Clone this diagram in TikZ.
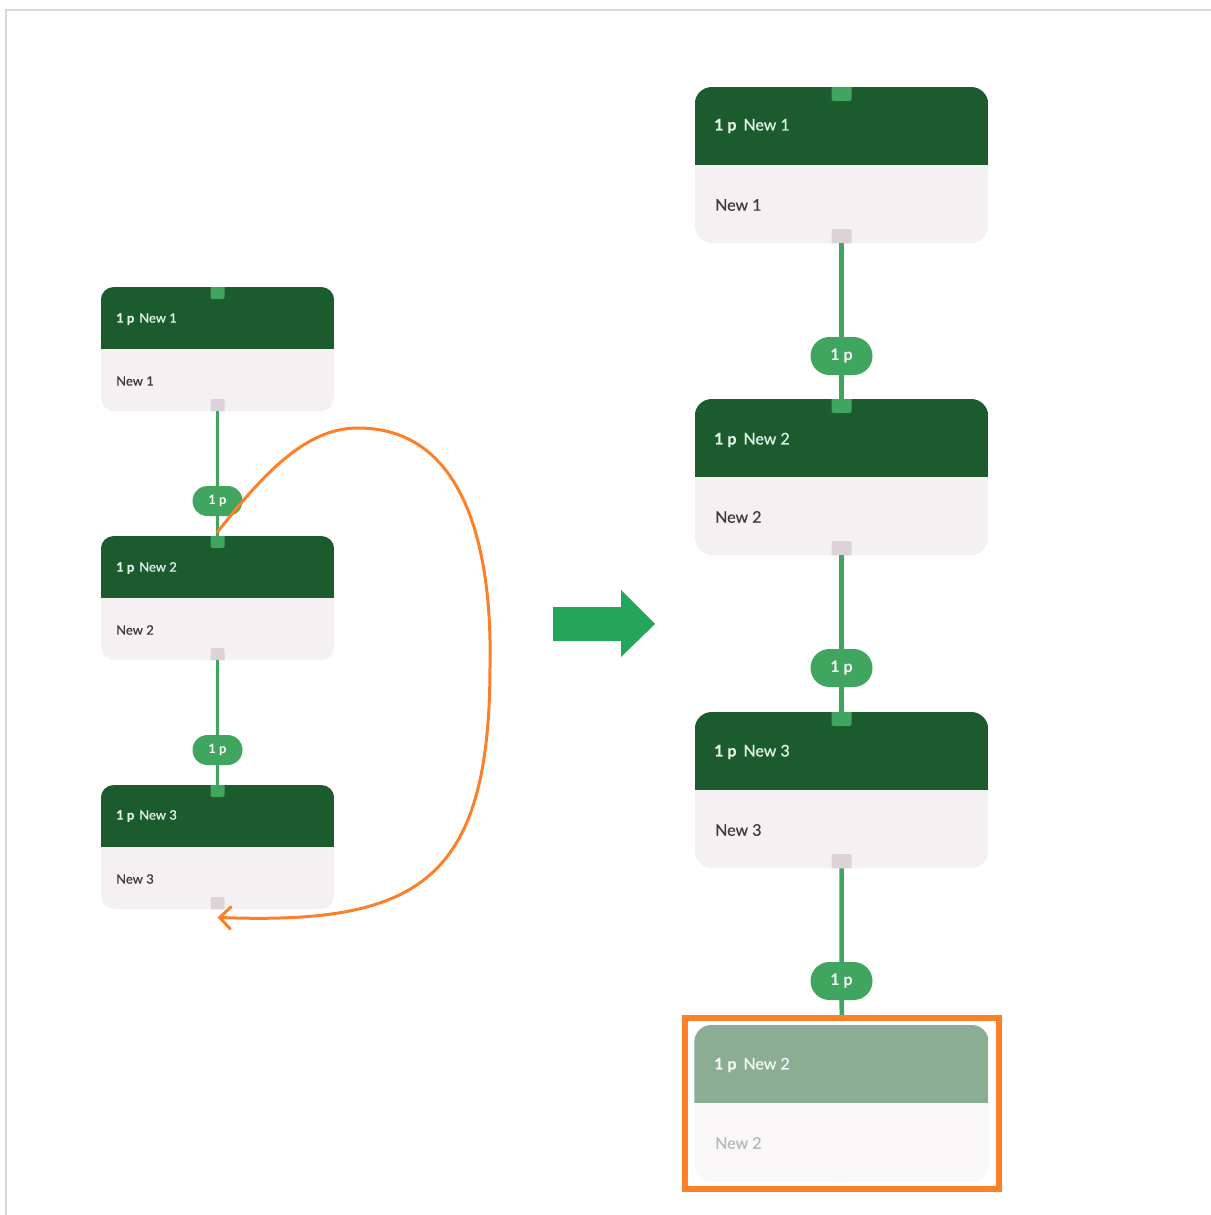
\documentclass[tikz,border=0pt]{standalone}
\usepackage{fontspec}
\setmainfont{Lato}
\newfontfamily\medfont{Lato}[FakeBold=0.6]
\usetikzlibrary{arrows.meta,shapes.misc}
\definecolor{hdrc}{HTML}{1B5B2E}
\definecolor{bodyc}{HTML}{F5F1F3}
\definecolor{tabg}{HTML}{3FA55F}
\definecolor{tabgr}{HTML}{DCD2D8}
\definecolor{fhdrc}{HTML}{8AAD93}
\definecolor{fbodyc}{HTML}{F9F7F8}
\definecolor{bigarrow}{HTML}{23A65A}
\definecolor{orangec}{HTML}{FD8029}
\definecolor{framec}{HTML}{D8D8D8}
\definecolor{bodytxt}{HTML}{3B3B3B}
\definecolor{hdrtxt}{HTML}{E2F4EA}
\definecolor{ftxt}{HTML}{B9B9B9}
\tikzset{
  livebody/.style={fill=bodyc}, livehdr/.style={fill=hdrc},
  livetop/.style={fill=tabg}, livebot/.style={fill=tabgr},
  fadedbody/.style={fill=fbodyc}, fadedhdr/.style={fill=fhdrc},
  fadedtop/.style={fill=fhdrc}, fadedbot/.style={fill=fbodyc},
  smallfont/.style={font=\fontsize{13}{15}\selectfont\medfont},
  bigfont/.style={font=\fontsize{16}{19}\selectfont\medfont},
  htxt/.style={anchor=west, inner sep=0pt, text=hdrtxt},
  btxt/.style={anchor=west, inner sep=0pt, text=bodytxt},
  badgeS/.style={fill=tabg, rounded rectangle, minimum width=50pt, minimum height=30pt, inner sep=0pt, text=white, font=\fontsize{13}{15}\selectfont\bfseries},
  badgeB/.style={fill=tabg, rounded rectangle, minimum width=62pt, minimum height=38pt, inner sep=0pt, text=white, font=\fontsize{16}{19}\selectfont\bfseries},
  connS/.style={draw=tabg, line width=3pt},
  connB/.style={draw=tabg, line width=4.5pt},
}
\def\crad{10pt}
% #1 name, #2 cx, #3 ytop, #4 w, #5 h, #6 header h, #7 tab w, #8 tab h, #9 style prefix
\newcommand\drawcard[9]{%
  \node[#9body, rounded corners=\crad, minimum width=#4, minimum height=#5, inner sep=0pt, anchor=north] (#1) at (#2,#3) {};
  \begin{scope}
    \clip[rounded corners=\crad] (#1.north west) rectangle (#1.south east);
    \fill[#9hdr] (#1.north west) rectangle ([yshift=-#6pt]#1.north east);
    \fill[#9top, rounded corners=2pt] (#2-#7/2,#3-5) rectangle (#2+#7/2,#3+#8);
    \fill[#9bot, rounded corners=2pt] (#2-#7/2,#3+#5-#8) rectangle (#2+#7/2,#3+#5+5);
  \end{scope}}
\begin{document}
\begin{tikzpicture}[x=1pt,y=-1pt]
\useasboundingbox (0,0) rectangle (1210,1215);
\draw[framec, line width=2pt] (6,1216) -- (6,10) -- (1211,10);

% ---------- left column ----------
\def\crad{13pt}
\drawcard{L1}{217.5}{287}{233}{124}{62}{14}{12}{live}
\drawcard{L2}{217.5}{536}{233}{124}{62}{14}{12}{live}
\drawcard{L3}{217.5}{785}{233}{124}{62}{14}{12}{live}
\node[htxt, smallfont] (L1h) at (116,319) {\textbf{1 p}\hspace{5pt}New 1};
\node[btxt, smallfont] (L1b) at (116,381) {New 1};
\node[htxt, smallfont] (L2h) at (116,568) {\textbf{1 p}\hspace{5pt}New 2};
\node[btxt, smallfont] (L2b) at (116,630) {New 2};
\node[htxt, smallfont] (L3h) at (116,816) {\textbf{1 p}\hspace{5pt}New 3};
\node[btxt, smallfont] (L3b) at (116,879) {New 3};
\draw[connS] (L1.south) -- (L2.north);
\draw[connS] (L2.south) -- (L3.north);
\node[badgeS] (LB1) at (217.5,501) {1 p};
\node[badgeS] (LB2) at (217.5,750) {1 p};

% ---------- right column ----------
\def\crad{17pt}
\drawcard{R1}{841.5}{87}{293}{156}{78}{20}{14}{live}
\drawcard{R2}{841.5}{399}{293}{156}{78}{20}{14}{live}
\drawcard{R3}{841.5}{712}{293}{156}{78}{20}{14}{live}
\drawcard{R4}{841.5}{1025}{294}{157}{78}{20}{14}{faded}
\node[htxt, bigfont] (R1h) at (714,126) {\textbf{1 p}\hspace{7pt}New 1};
\node[btxt, bigfont] (R1b) at (715,205) {New 1};
\node[htxt, bigfont] (R2h) at (714,440) {\textbf{1 p}\hspace{7pt}New 2};
\node[btxt, bigfont] (R2b) at (715,517) {New 2};
\node[htxt, bigfont] (R3h) at (714,752) {\textbf{1 p}\hspace{7pt}New 3};
\node[btxt, bigfont] (R3b) at (715,830) {New 3};
\node[htxt, bigfont, text=white!92!fhdrc] (R4h) at (714,1065) {\textbf{1 p}\hspace{7pt}New 2};
\node[btxt, bigfont, text=ftxt] (R4b) at (715,1143) {New 2};
\node[minimum width=313.5pt, minimum height=171pt, inner sep=0pt] (HL) at (841.75,1103.5) {};
\draw[connB] (R1.south) -- (R2.north);
\draw[connB] (R2.south) -- (R3.north);
\draw[connB] (R3.south) -- ([yshift=2pt]HL.north);
\node[badgeB] (RB1) at (841.5,356) {1 p};
\node[badgeB] (RB2) at (841.5,668) {1 p};
\node[badgeB] (RB3) at (841.5,981) {1 p};
\draw[orangec, line width=6pt] (HL.north west) rectangle (HL.south east);

% ---------- big arrow ----------
\fill[bigarrow] (553,607) -- (621,607) -- (621,590) -- (655,624) -- (621,657) -- (621,641) -- (553,641) -- cycle;

% ---------- orange move curve ----------
\draw[orangec, line width=3pt, line cap=round,
      -{Straight Barb[length=11pt,width=22pt,line width=3pt,line cap=round]}]
  ([yshift=4pt]L2.north) .. controls (270,465) and (310,428) .. (358,428)
  .. controls (470,428) and (492,560) .. (490,665)
  .. controls (490,880) and (420,925) .. ([yshift=-8pt]L3.south);
\end{tikzpicture}
\end{document}
